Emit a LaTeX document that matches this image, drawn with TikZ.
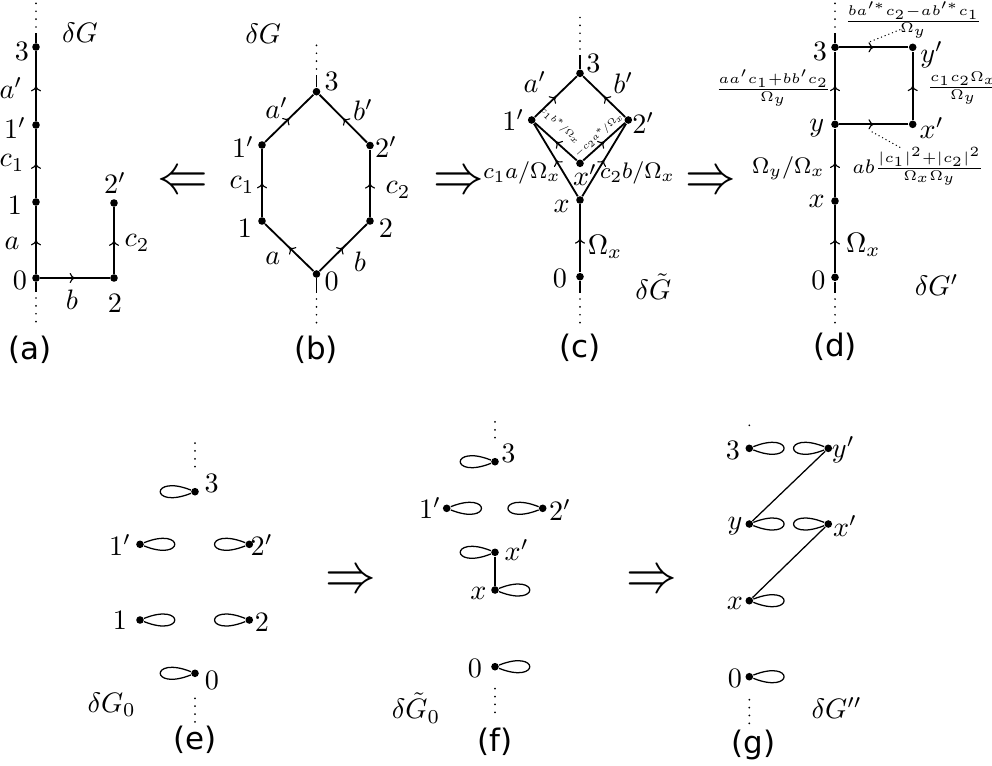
\documentclass[tikz,border=0pt]{standalone}
\usepackage{fontspec}
\usepackage{graphicx}
\newfontfamily\capfont{DejaVu Sans}
\usetikzlibrary{arrows.meta,decorations.markings}

\begin{document}
\begin{tikzpicture}[x=0.0125cm,y=-0.0125cm,
  dot/.style={circle,fill,inner sep=0pt,minimum size=2.7pt},
  capt/.style={inner sep=0pt,font=\capfont\fontsize{11}{13}\selectfont},
  edge/.style={line width=0.65pt},
  mid/.style={edge,postaction={decorate},decoration={markings,
    mark=at position 0.5 with {\arrow{Computer Modern Rightarrow[length=1.9pt,width=3.6pt,line width=0.4pt]}}}},
  dots/.style={line width=0.7pt,line cap=round,dash pattern=on 0pt off 2.8pt},
  lp/.style={line width=0.45pt},
  lead/.style={line width=0.35pt,dash pattern=on 0.4pt off 1pt},
  small/.style={font=\footnotesize},
  frac/.style={font=\scriptsize},
  impl/.style={inner sep=0pt},
  every node/.append style={inner sep=0pt}]
  \useasboundingbox (0,0) rectangle (992,765);

  % (a)
  \node[dot] (a3) at (36,47) {};
  \node[dot] (a1p) at (36,125) {};
  \node[dot] (a1) at (36,202) {};
  \node[dot] (a0) at (36,278) {};
  \node[dot] (a2p) at (114,203) {};
  \node[dot] (a2) at (114,278) {};
  \coordinate (atop) at (36,33);
  \coordinate (abot) at (36,292);
  \draw[mid] (a0) -- (a1);
  \draw[mid] (a1) -- (a1p);
  \draw[mid] (a1p) -- (a3);
  \draw[mid] (a0) -- (a2);
  \draw[mid] (a2) -- (a2p);
  \draw[edge] (a3) -- (atop);
  \draw[edge] (a0) -- (abot);
  \draw[dots] (atop) ++(0,-6) -- ++(0,-26);
  \draw[dots] (abot) ++(0,6) -- ++(0,28);
  \node (a3l) at (22,51) {$3$};
  \node (a1pl) at (15,128) {$1'$};
  \node (a1l) at (15,205) {$1$};
  \node (a0l) at (20,280) {$0$};
  \node (a2pl) at (115,183) {$2'$};
  \node (a2l) at (115,303) {$2$};
  \node (aap) at (11,88) {$a'$};
  \node (ac1) at (12,163) {$c_1$};
  \node (aa) at (12,243) {$a$};
  \node (ab) at (72,300) {$b$};
  \node (ac2) at (137,243) {$c_2$};
  \node (aname) at (80,33) {$\delta G$};
  \node[capt] (acap) at (30,350) {(a)};

  \node[impl] (i1) at (183,183) {\scalebox{1.8}[2.0]{$\Leftarrow$}};

  % (b)
  \node[dot] (b3) at (316.5,91.7) {};
  \node[dot] (b1p) at (262,145) {};
  \node[dot] (b2p) at (370,145.5) {};
  \node[dot] (b1) at (262,221) {};
  \node[dot] (b2) at (370,221) {};
  \node[dot] (b0) at (316.5,274) {};
  \coordinate (btop) at (316.5,75);
  \coordinate (bbot) at (316.5,293);
  \draw[mid] (b0) -- (b1);
  \draw[mid] (b1) -- (b1p);
  \draw[mid] (b1p) -- (b3);
  \draw[mid] (b0) -- (b2);
  \draw[mid] (b2) -- (b2p);
  \draw[mid] (b2p) -- (b3);
  \draw[edge] (b3) -- (btop);
  \draw[edge] (b0) -- (bbot);
  \draw[dots] (btop) ++(0,-6) -- ++(0,-30);
  \draw[dots] (bbot) ++(0,6) -- ++(0,28);
  \node (b3l) at (331.7,81.7) {$3$};
  \node (b1pl) at (243,146.7) {$1'$};
  \node (b2pl) at (386,146.7) {$2'$};
  \node (b1l) at (245,228) {$1$};
  \node (b2l) at (386,228) {$2$};
  \node (b0l) at (331.7,281.7) {$0$};
  \node (bap) at (276.7,108.3) {$a'$};
  \node (bbp) at (363,110) {$b'$};
  \node (bc1) at (242,185) {$c_1$};
  \node (bc2) at (398,190) {$c_2$};
  \node (ba) at (272.7,258.3) {$a$};
  \node (bb) at (360,262) {$b$};
  \node (bname) at (263.3,33.3) {$\delta G$};
  \node[capt] (bcap) at (316,350) {(b)};

  \node[impl] (i2) at (459,183) {\scalebox{1.8}[2.0]{$\Rightarrow$}};

  % (c)
  \node[dot] (c3) at (580,73.3) {};
  \node[dot] (c1p) at (531.7,120) {};
  \node[dot] (c2p) at (628.3,120) {};
  \node[dot] (cxp) at (580,163.3) {};
  \node[dot] (cx) at (580,200) {};
  \node[dot] (c0) at (580,276.7) {};
  \coordinate (ctop) at (580,55);
  \coordinate (cbot) at (580,293);
  \draw[mid] (c0) -- (cx);
  \draw[mid] (cx) -- (c1p);
  \draw[mid] (cx) -- (c2p);
  \draw[mid] (cxp) -- (c1p);
  \draw[mid] (cxp) -- (c2p);
  \draw[mid] (c1p) -- (c3);
  \draw[mid] (c2p) -- (c3);
  \draw[edge] (c3) -- (ctop);
  \draw[edge] (c0) -- (cbot);
  \draw[dots] (ctop) ++(0,-6) -- ++(0,-36);
  \draw[dots] (cbot) ++(0,6) -- ++(0,28);
  \node[rotate=-42] (cinl) at (560.5,125) {\scalebox{0.65}{\tiny$c_1b^*/\Omega_x$}};
  \node[rotate=42] (cinr) at (598.5,135) {\scalebox{0.65}{\tiny$-c_2a^*/\Omega_x$}};
  \node (c3l) at (593.3,63.3) {$3$};
  \node (c1pl) at (513.3,120) {$1'$};
  \node (c2pl) at (643.3,123) {$2'$};
  \node (cxpl) at (585,175) {$x'$};
  \node (cxl) at (561.7,206.7) {$x$};
  \node (c0l) at (560,278.3) {$0$};
  \node (cap1) at (535,81.7) {$a'$};
  \node (cbp) at (623.3,83.3) {$b'$};
  \node[small] (cc1a) at (522,173.3) {$c_1a/\Omega_x$};
  \node[small] (cc2b) at (637.5,173.3) {$c_2b/\Omega_x$};
  \node (comx) at (605,246.7) {$\Omega_x$};
  \node (cname) at (653.3,286.7) {$\delta\tilde{G}$};
  \node[capt] (ccap) at (580,348) {(c)};

  \node[impl] (i3) at (711,183) {\scalebox{1.8}[2.0]{$\Rightarrow$}};

  % (d)
  \node[dot] (d3) at (835,47.3) {};
  \node[dot] (dyp) at (912.7,47.3) {};
  \node[dot] (dy) at (835,124.3) {};
  \node[dot] (dxp) at (912.7,124.3) {};
  \node[dot] (dx) at (835,201) {};
  \node[dot] (d0) at (835,277.3) {};
  \coordinate (dtop) at (835,33);
  \coordinate (dbot) at (835,293);
  \draw[mid] (d0) -- (dx);
  \draw[mid] (dx) -- (dy);
  \draw[mid] (dy) -- (d3);
  \draw[mid] (d3) -- (dyp);
  \draw[mid] (dy) -- (dxp);
  \draw[mid] (dxp) -- (dyp);
  \draw[edge] (d3) -- (dtop);
  \draw[edge] (d0) -- (dbot);
  \draw[dots] (dtop) ++(0,-6) -- ++(0,-26);
  \draw[dots] (dbot) ++(0,6) -- ++(0,28);
  \node (d3l) at (820,51.7) {$3$};
  \node (dypl) at (931.7,55) {$y'$};
  \node (dyl) at (816.7,128.3) {$y$};
  \node (dxpl) at (931.7,128.3) {$x'$};
  \node (dxl) at (816.7,201.7) {$x$};
  \node (d0l) at (818.3,280) {$0$};
  \node[small] (domyx) at (788.3,168.3) {$\Omega_y/\Omega_x$};
  \node (domx) at (863.3,245) {$\Omega_x$};
  \node[frac] (dleft) at (773.3,88.3) {$\frac{aa'c_1+bb'c_2}{\Omega_y}$};
  \node[frac] (dright) at (963.3,88.3) {$\frac{c_1c_2\Omega_x}{\Omega_y}$};
  \node[frac] (dupper) at (913.3,20) {$\frac{ba'^*c_2-ab'^*c_1}{\Omega_y}$};
  \node[frac] (dlower) at (918.3,166.7) {$ab\frac{|c_1|^2+|c_2|^2}{\Omega_x\Omega_y}$};
  \coordinate (dul) at (870,41.7);
  \coordinate (duh) at (903,28.5);
  \coordinate (dll) at (871.7,131.7);
  \coordinate (dlh) at (901.7,148.3);
  \draw[lead] (dul) -- (duh);
  \draw[lead] (dll) -- (dlh);
  \node (dname) at (936.7,285) {$\delta G'$};
  \node[capt] (dcap) at (835,346.7) {(d)};

  % (e)
  \node[dot] (e3) at (195,491.7) {};
  \node[dot] (e1p) at (140,544.3) {};
  \node[dot] (e2p) at (249.3,544.3) {};
  \node[dot] (e1) at (140,620) {};
  \node[dot] (e2) at (249.3,620) {};
  \node[dot] (e0) at (195,673.3) {};
  \draw[lp] (e3) .. controls +(-45,-18) and +(-45,18) .. (e3);
  \draw[lp] (e1p) .. controls +(45,-18) and +(45,18) .. (e1p);
  \draw[lp] (e2p) .. controls +(-45,-18) and +(-45,18) .. (e2p);
  \draw[lp] (e1) .. controls +(45,-18) and +(45,18) .. (e1);
  \draw[lp] (e2) .. controls +(-45,-18) and +(-45,18) .. (e2);
  \draw[lp] (e0) .. controls +(-45,-18) and +(-45,18) .. (e0);
  \draw[dots] (e3) ++(0,-25) -- ++(0,-27);
  \draw[dots] (e0) ++(0,25) -- ++(0,25);
  \node (e3l) at (211.7,483) {$3$};
  \node (e1pl) at (120,545) {$1'$};
  \node (e2pl) at (261.7,545) {$2'$};
  \node (e1l) at (120,620) {$1$};
  \node (e2l) at (262,622) {$2$};
  \node (e0l) at (212,680) {$0$};
  \node (ename) at (111.7,705) {$\delta G_0$};
  \node[capt] (ecap) at (195,740) {(e)};

  \node[impl] (i4) at (350.5,581.7) {\scalebox{1.8}[2.0]{$\Rightarrow$}};

  % (f)
  \node[dot] (f3) at (495,461.7) {};
  \node[dot] (f1p) at (446.7,508.3) {};
  \node[dot] (f2p) at (542.7,508.3) {};
  \node[dot] (fxp) at (495,552.3) {};
  \node[dot] (fx) at (495,590) {};
  \node[dot] (f0) at (495,666.7) {};
  \draw[edge] (fxp) -- (fx);
  \draw[lp] (f3) .. controls +(-45,-18) and +(-45,18) .. (f3);
  \draw[lp] (f1p) .. controls +(45,-18) and +(45,18) .. (f1p);
  \draw[lp] (f2p) .. controls +(-45,-18) and +(-45,18) .. (f2p);
  \draw[lp] (fxp) .. controls +(-45,-18) and +(-45,18) .. (fxp);
  \draw[lp] (fx) .. controls +(45,-18) and +(45,18) .. (fx);
  \draw[lp] (f0) .. controls +(45,-18) and +(45,18) .. (f0);
  \draw[dots] (f3) ++(0,-24) -- ++(0,-16);
  \draw[dots] (f0) ++(0,22) -- ++(0,25);
  \node (f3l) at (508.3,453) {$3$};
  \node (f1pl) at (430,508) {$1'$};
  \node (f2pl) at (560,510) {$2'$};
  \node (fxpl) at (516.7,550) {$x'$};
  \node (fxl) at (478.3,593) {$x$};
  \node (f0l) at (475,668) {$0$};
  \node (fname) at (416,708) {$\delta\tilde{G}_0$};
  \node[capt] (fcap) at (495,742) {(f)};

  \node[impl] (i5) at (651.5,581.7) {\scalebox{1.8}[2.0]{$\Rightarrow$}};

  % (g)
  \node[dot] (g3) at (749.3,448.3) {};
  \node[dot] (gyp) at (828.3,448.3) {};
  \node[dot] (gy) at (749.3,524) {};
  \node[dot] (gxp) at (828.3,524) {};
  \node[dot] (gx) at (749.3,600.7) {};
  \node[dot] (g0) at (749.3,676.7) {};
  \draw[lp] (gy) -- (gyp);
  \draw[lp] (gx) -- (gxp);
  \draw[lp] (g3) .. controls +(45,-18) and +(45,18) .. (g3);
  \draw[lp] (gyp) .. controls +(-45,-18) and +(-45,18) .. (gyp);
  \draw[lp] (gy) .. controls +(45,-18) and +(45,18) .. (gy);
  \draw[lp] (gxp) .. controls +(-45,-18) and +(-45,18) .. (gxp);
  \draw[lp] (gx) .. controls +(45,-18) and +(45,18) .. (gx);
  \draw[lp] (g0) .. controls +(45,-18) and +(45,18) .. (g0);
  \draw[dots] (g3) ++(0,-23) -- ++(0,-4);
  \draw[dots] (g0) ++(0,23) -- ++(0,25);
  \node (g3l) at (733,450) {$3$};
  \node (gypl) at (843.3,450) {$y'$};
  \node (gyl) at (735,526) {$y$};
  \node (gxpl) at (845,526) {$x'$};
  \node (gxl) at (735,603) {$x$};
  \node (g0l) at (735,678) {$0$};
  \node (gname) at (836.7,708) {$\delta G''$};
  \node[capt] (gcap) at (753.3,745) {(g)};
\end{tikzpicture}
\end{document}
